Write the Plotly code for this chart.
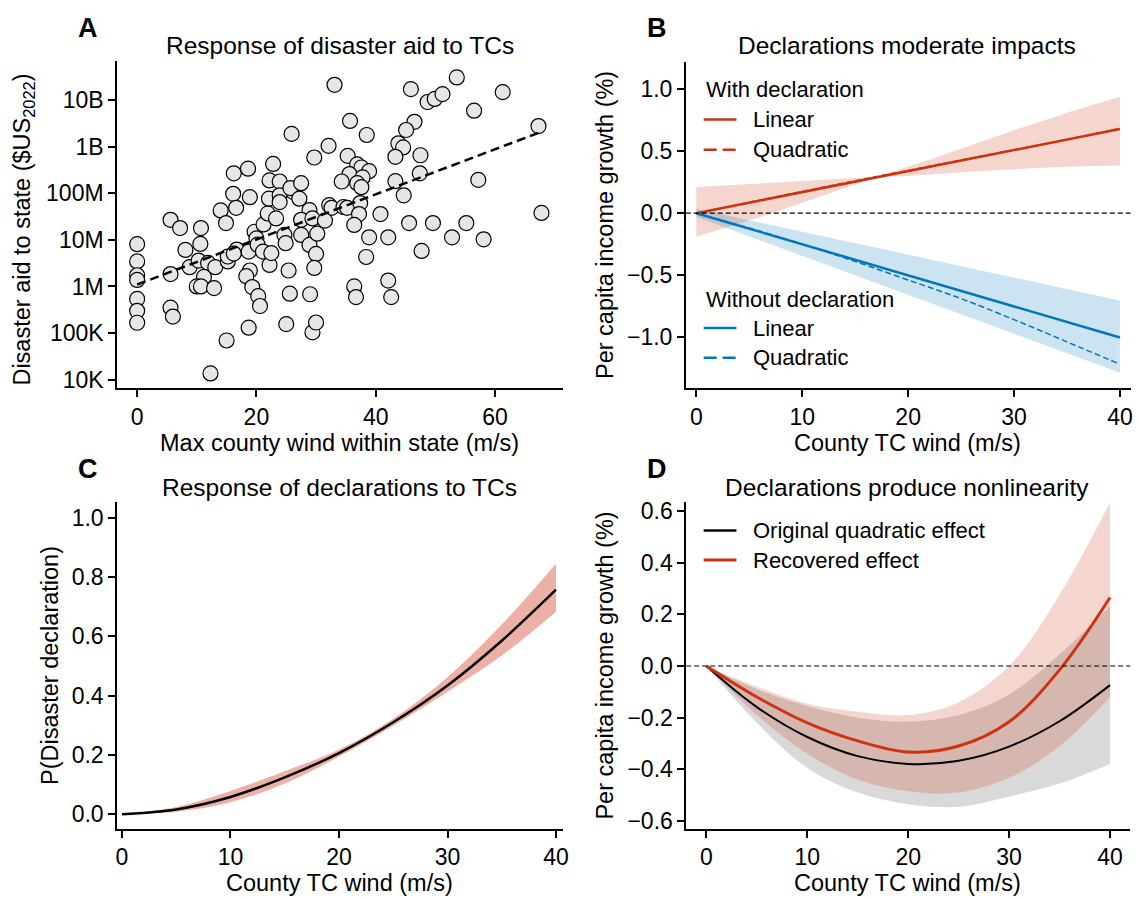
import plotly.graph_objects as go

FONT = "Liberation Sans, Arial, Helvetica, sans-serif"
RED = "#CC3311"
BLUE = "#0077BB"
W, H = 1140, 899

# ---------------- Panel A data ----------------
wind_state = [0, 0, 0, 0, 0, 0, 0, 5.6, 7.2, 5.6, 5.6, 6.0, 8.1, 8.8, 10.7, 10.6, 10.3, 11.9, 11.2, 10.0,
              10.7, 12.9, 13.1, 12.3, 15.0, 14.0, 14.9, 16.2, 16.1, 16.6, 18.6, 18.9, 15.2, 15.2, 16.7, 16.2,
              18.7, 18.9, 18.3, 19.3, 20.3, 20.6, 18.7, 19.7, 20.0, 20.2, 21.1, 22.2, 22.5, 21.2, 21.9, 22.1,
              22.2, 23.9, 23.9, 23.9, 23.3, 22.8, 25.9, 29.7, 24.7, 24.9, 25.4, 25.6, 25.0, 26.2, 25.7, 27.5,
              28.9, 27.5, 27.5, 28.9, 30.0, 29.7, 29.0, 29.4, 30.0, 30.2, 33.1, 35.7, 38.5, 32.1, 35.3, 36.9,
              37.6, 38.9, 35.6, 37.8, 34.3, 36.9, 37.6, 32.2, 32.6, 34.6, 35.2, 37.4, 37.2, 29.4, 31.5, 36.4,
              40.8, 38.9, 42.1, 38.4, 45.6, 49.6, 55.2, 52.8, 58.1, 47.7, 42.1, 42.6, 36.4, 36.7, 45.9, 48.7,
              49.9, 51.2, 53.6, 56.5, 61.3, 46.5, 45.1, 43.8, 44.6, 43.3, 47.5, 47.4, 43.3, 44.7, 57.2, 67.3,
              67.8, 27.2]
aid_state = [8.1e6, 3.45e6, 1.74e6, 1.38e6, 5.4e5, 3.0e5, 1.66e5, 2.7e7, 1.8e7, 1.85e6, 3.5e5, 2.25e5, 6.1e6,
             2.6e6, 1.8e7, 8.2e6, 3.6e6, 3.2e6, 1.6e6, 1.0e6, 1.0e6, 9.2e5, 2.6e6, 1.35e4, 6.9e4, 4.3e7,
             2.3e7, 2.7e8, 9.8e7, 4.9e7, 3.4e8, 8.3e7, 3.45e6, 4.4e6, 6.2e6, 5.1e6, 5.6e6, 2.2e6, 1.66e6,
             9.7e5, 6.2e5, 3.8e5, 1.3e5, 1.5e7, 1.08e7, 7.9e6, 5.6e6, 2.9e6, 5.2e6, 2.15e7, 3.7e7, 7.7e7,
             1.9e8, 1.8e8, 9.1e7, 6.5e7, 2.9e7, 4.3e8, 1.9e9, 5.9e8, 1.28e7, 8.5e6, 2.2e6, 7.0e5, 1.55e5,
             1.07e8, 1.3e8, 1.66e8, 4.35e7, 2.7e7, 1.28e7, 7.8e6, 5.0e6, 2.5e6, 6.8e5, 1.03e5, 1.68e5,
             1.36e7, 2.15e10, 3.6e9, 1.8e9, 1.05e9, 6.4e8, 4.2e8, 3.6e8, 3.0e8, 2.6e8, 2.2e8, 1.8e8,
             1.66e8, 1.36e8, 5.6e7, 4.9e7, 5.1e7, 4.9e7, 6.2e7, 3.6e7, 2.9e7, 2.6e7, 2.1e7, 3.6e7, 1.14e7,
             1.14e7, 4.3e6, 2.3e7, 2.3e7, 2.3e7, 1.14e7, 1.03e7, 5.8e6, 1.34e6, 5.9e5, 1.0e6, 5.9e5,
             1.74e10, 9.2e9, 1.07e10, 1.36e10, 3.1e10, 6.0e9, 1.5e10, 3.45e9, 2.3e9, 1.19e9, 9.7e8, 6.1e8,
             6.6e8, 2.7e8, 1.83e8, 9.1e7, 1.95e8, 2.8e9, 3.8e7, 7.7e7]
fit_wind = [0, 67.3]
fit_aid = [1.1e6, 2.0e9]
a_ytick_vals = [1e4, 1e5, 1e6, 1e7, 1e8, 1e9, 1e10]
a_ytick_text = ["10K", "100K", "1M", "10M", "100M", "1B", "10B"]

# ---------------- Panel B data ----------------
b_line_x = [0, 40]
b_with_linear = [0, 0.68]
b_without_linear = [0, -1.005]
b_quad_x = [0, 5, 10, 15, 20, 25, 30, 35, 40]
b_with_quad = [0, 0.088, 0.176, 0.262, 0.346, 0.43, 0.512, 0.595, 0.685]
b_without_quad = [0, -0.12, -0.25, -0.39, -0.54, -0.69, -0.86, -1.04, -1.22]
b_with_band_x = [0, 5, 10, 15, 17, 20, 25, 30, 35, 40]
b_with_upper = [0.21, 0.235, 0.26, 0.285, 0.30, 0.375, 0.52, 0.67, 0.81, 0.94]
b_with_lower = [-0.19, -0.06, 0.085, 0.23, 0.285, 0.30, 0.33, 0.355, 0.375, 0.385]
b_without_band_x = [0, 10, 20, 30, 40]
b_without_upper = [0.035, -0.15, -0.335, -0.52, -0.705]
b_without_lower = [-0.03, -0.345, -0.665, -0.98, -1.29]

# ---------------- Panel C data ----------------
c_x = [0, 5, 10, 15, 20, 25, 30, 35, 40]
c_prob = [0, 0.016, 0.058, 0.124, 0.206, 0.31, 0.434, 0.585, 0.757]
c_upper = [0, 0.024, 0.078, 0.145, 0.218, 0.322, 0.462, 0.64, 0.845]
c_lower = [0, 0.008, 0.040, 0.103, 0.194, 0.298, 0.413, 0.535, 0.683]

# ---------------- Panel D data ----------------
d_x = [0, 5, 10, 15, 20, 25, 30, 35, 40]
d_original = [0, -0.159, -0.275, -0.349, -0.379, -0.367, -0.312, -0.214, -0.074]
d_orig_upper = [0, -0.09, -0.155, -0.2, -0.215, -0.19, -0.11, 0.045, 0.231]
d_orig_lower = [0, -0.22, -0.395, -0.49, -0.535, -0.545, -0.505, -0.455, -0.379]
d_recovered = [0, -0.12, -0.22, -0.29, -0.333, -0.31, -0.216, -0.015, 0.265]
d_rec_upper = [0, -0.08, -0.146, -0.177, -0.19, -0.14, 0.0, 0.276, 0.633]
d_rec_lower = [0, -0.19, -0.34, -0.44, -0.485, -0.49, -0.433, -0.31, -0.12]

TICK_SIZE = 23
LABEL_SIZE = 23.5
TITLE_SIZE = 24.5
LEGEND_SIZE = 22
LETTER_SIZE = 27

fig = go.Figure()


def band(x, lo, hi, color, xa, ya, shape="spline"):
    fig.add_trace(go.Scatter(x=x, y=lo, mode="lines", line=dict(width=0, shape=shape),
                             hoverinfo="skip", showlegend=False, xaxis=xa, yaxis=ya))
    fig.add_trace(go.Scatter(x=x, y=hi, mode="lines", line=dict(width=0, shape=shape),
                             fill="tonexty", fillcolor=color, hoverinfo="skip",
                             showlegend=False, xaxis=xa, yaxis=ya))


# Panel A
fig.add_trace(go.Scatter(x=wind_state, y=aid_state, mode="markers",
                         marker=dict(size=15, color="#e6e6e6", line=dict(color="black", width=1.2)),
                         showlegend=False, xaxis="x", yaxis="y"))
fig.add_trace(go.Scatter(x=fit_wind, y=fit_aid, mode="lines",
                         line=dict(color="black", width=2.5, dash="9px,5px"),
                         showlegend=False, xaxis="x", yaxis="y"))

# Panel B
band(b_with_band_x, b_with_lower, b_with_upper, "rgba(204,51,17,0.2)", "x2", "y2")
band(b_without_band_x, b_without_lower, b_without_upper, "rgba(0,119,187,0.2)", "x2", "y2", shape="linear")
fig.add_trace(go.Scatter(x=b_line_x, y=b_with_linear, mode="lines", line=dict(color=RED, width=2.5),
                         showlegend=False, xaxis="x2", yaxis="y2"))
fig.add_trace(go.Scatter(x=b_quad_x, y=b_with_quad, mode="lines",
                         line=dict(color=RED, width=1.5, dash="6px,3px", shape="spline"),
                         showlegend=False, xaxis="x2", yaxis="y2"))
fig.add_trace(go.Scatter(x=b_line_x, y=b_without_linear, mode="lines", line=dict(color=BLUE, width=2.5),
                         showlegend=False, xaxis="x2", yaxis="y2"))
fig.add_trace(go.Scatter(x=b_quad_x, y=b_without_quad, mode="lines",
                         line=dict(color=BLUE, width=1.5, dash="6px,3px", shape="spline"),
                         showlegend=False, xaxis="x2", yaxis="y2"))

# Panel C
band(c_x, c_lower, c_upper, "rgba(214,80,55,0.45)", "x3", "y3")
fig.add_trace(go.Scatter(x=c_x, y=c_prob, mode="lines", line=dict(color="black", width=2.5, shape="spline"),
                         showlegend=False, xaxis="x3", yaxis="y3"))

# Panel D
band(d_x, d_orig_lower, d_orig_upper, "rgba(0,0,0,0.15)", "x4", "y4")
band(d_x, d_rec_lower, d_rec_upper, "rgba(204,51,17,0.2)", "x4", "y4")
fig.add_trace(go.Scatter(x=d_x, y=d_original, mode="lines", line=dict(color="black", width=2, shape="spline"),
                         showlegend=False, xaxis="x4", yaxis="y4"))
fig.add_trace(go.Scatter(x=d_x, y=d_recovered, mode="lines", line=dict(color=RED, width=3, shape="spline"),
                         showlegend=False, xaxis="x4", yaxis="y4"))


def px(x0, x1):
    return [x0 / W, x1 / W]


def py(top, bottom):
    return [1 - bottom / H, 1 - top / H]


axis_common = dict(showline=True, linecolor="black", linewidth=1.5, ticks="outside", ticklen=7,
                   tickwidth=1.5, tickcolor="black", showgrid=False, zeroline=False, mirror=False,
                   tickfont=dict(family=FONT, size=TICK_SIZE, color="black"))

fig.update_layout(
    width=W, height=H, margin=dict(l=0, r=0, t=0, b=0),
    paper_bgcolor="white", plot_bgcolor="white",
    font=dict(family=FONT, size=TICK_SIZE, color="black"),
    xaxis=dict(domain=px(116.7, 565), range=[-3.38, 71.33], tickvals=[0, 20, 40, 60],
               anchor="y", **axis_common),
    yaxis=dict(domain=py(58, 388.3), type="log", range=[3.809, 10.836], tickvals=a_ytick_vals,
               ticktext=a_ytick_text, anchor="x", **axis_common),
    xaxis2=dict(domain=px(689, 1136.5), range=[-1.0, 41.0], tickvals=[0, 10, 20, 30, 40],
                anchor="y2", **axis_common),
    yaxis2=dict(domain=py(58.3, 388.3), range=[-1.416, 1.224], tickvals=[-1.0, -0.5, 0.0, 0.5, 1.0],
                tickformat=".1f", anchor="x2", **axis_common),
    xaxis3=dict(domain=px(116.7, 565), range=[-0.46, 40.6], tickvals=[0, 10, 20, 30, 40],
                anchor="y3", **axis_common),
    yaxis3=dict(domain=py(503.3, 833.3), range=[-0.050, 1.052], tickvals=[0, 0.2, 0.4, 0.6, 0.8, 1.0],
                tickformat=".1f", anchor="x3", **axis_common),
    xaxis4=dict(domain=px(689.4, 1136.2), range=[-2, 42], tickvals=[0, 10, 20, 30, 40],
                anchor="y4", **axis_common),
    yaxis4=dict(domain=py(503.3, 833.3), range=[-0.631, 0.634],
                tickvals=[-0.6, -0.4, -0.2, 0.0, 0.2, 0.4, 0.6], tickformat=".1f", anchor="x4", **axis_common),
)

shapes = []
# zero reference lines
for xa, ya in [("x2", "y2"), ("x4", "y4")]:
    shapes.append(dict(type="line", xref=f"{xa} domain", yref=ya, x0=0, x1=1, y0=0, y1=0,
                       line=dict(color="black", width=1.2, dash="5px,3px"), layer="above"))


def key(x0, x1, y, color, dash=None, width=2.5):
    ln = dict(color=color, width=width)
    if dash:
        ln["dash"] = dash
    shapes.append(dict(type="line", xref="paper", yref="paper", x0=x0 / W, x1=x1 / W,
                       y0=1 - y / H, y1=1 - y / H, line=ln))


annotations = []


def text(s, x, y, size, xanchor="center", bold=False, angle=0):
    annotations.append(dict(text=f"<b>{s}</b>" if bold else s, x=x / W, y=1 - y / H, xref="paper",
                            yref="paper", showarrow=False, xanchor=xanchor, yanchor="middle",
                            textangle=angle, borderpad=0,
                            font=dict(family=FONT, size=size, color="black")))


# Legend B
text("With declaration", 708, 86, LEGEND_SIZE, xanchor="left")
key(707, 740, 116.7, RED)
text("Linear", 755.5, 116.7, LEGEND_SIZE, xanchor="left")
key(707, 740, 147.3, RED, dash="13px,6px")
text("Quadratic", 755.5, 147.3, LEGEND_SIZE, xanchor="left")
text("Without declaration", 708, 298.3, LEGEND_SIZE, xanchor="left")
key(707, 740, 327.3, BLUE)
text("Linear", 755.5, 327.3, LEGEND_SIZE, xanchor="left")
key(707, 740, 357.3, BLUE, dash="13px,6px")
text("Quadratic", 755.5, 357.3, LEGEND_SIZE, xanchor="left")

# Legend D
key(707, 740, 531.7, "black")
text("Original quadratic effect", 755.5, 531.7, LEGEND_SIZE, xanchor="left")
key(707, 740, 561.7, RED, width=3)
text("Recovered effect", 755.5, 561.7, LEGEND_SIZE, xanchor="left")

# Panel letters and titles
text("A", 88, 24, LETTER_SIZE, bold=True)
text("B", 660, 24, LETTER_SIZE, bold=True)
text("C", 88, 470, LETTER_SIZE, bold=True)
text("D", 660, 470, LETTER_SIZE, bold=True)
text("Response of disaster aid to TCs", 341, 42, TITLE_SIZE)
text("Declarations moderate impacts", 912, 42, TITLE_SIZE)
text("Response of declarations to TCs", 341, 488, TITLE_SIZE)
text("Declarations produce nonlinearity", 912, 488, TITLE_SIZE)

# Axis titles
text("Max county wind within state (m/s)", 341, 443, LABEL_SIZE)
text("County TC wind (m/s)", 912, 443, LABEL_SIZE)
text("County TC wind (m/s)", 341, 887.5, LABEL_SIZE)
text("County TC wind (m/s)", 912, 887.5, LABEL_SIZE)
text("Disaster aid to state ($US<sub>2022</sub>)", 23, 228, LABEL_SIZE, angle=-90)
text("Per capita income growth (%)", 608, 223, LABEL_SIZE, angle=-90)
text("P(Disaster declaration)", 50, 668, LABEL_SIZE, angle=-90)
text("Per capita income growth (%)", 608, 668, LABEL_SIZE, angle=-90)

fig.update_layout(shapes=shapes, annotations=annotations)
fig.write_html("out.html", include_plotlyjs=True, config={"displayModeBar": False})
